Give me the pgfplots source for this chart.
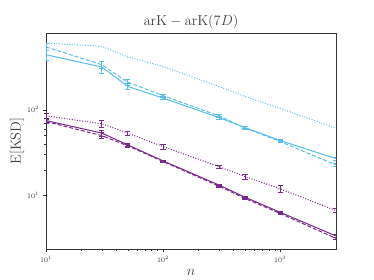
\documentclass[border=0pt]{standalone}
\usepackage{pgfplots}
\pgfplotsset{compat=1.18}
\definecolor{cy}{RGB}{86,190,236}
\definecolor{pu}{RGB}{118,42,138}
\begin{document}
\begin{tikzpicture}
\begin{axis}[
  at={(0,0)}, anchor=south west,
  scale only axis, width=290pt, height=216pt,
  xmode=log, ymode=log,
  xmin=10, xmax=3000, ymin=2.39, ymax=785,
  axis line style={black!80, line width=0.8pt},
  tick align=outside, xtick pos=bottom, ytick pos=left,
  major tick length=3.5pt, minor tick length=2pt,
  tick style={black!80, line width=0.5pt},
  ticklabel style={font=\fontsize{7}{8}\selectfont, text=black!80},
  xtick={10,100,1000}, ytick={10,100},
  title={$\mathrm{arK}-\mathrm{arK}(7D)$},
  title style={font=\fontsize{13.5}{15}\selectfont, text=black!75, yshift=-6pt},
  xlabel={$n$}, ylabel={$\mathrm{E}[\mathrm{KSD}]$},
  label style={font=\fontsize{13.5}{15}\selectfont, text=black!75},
  ylabel style={yshift=-4pt},
  every axis plot/.append style={line width=1.0pt},
  error bars/error bar style={line width=0.8pt},
  error bars/error mark options={rotate=90, mark size=2.6pt, line width=0.8pt},
]
% cyan solid
\addplot[cy, solid, error bars/.cd, y dir=both, y explicit] coordinates {
 (10,438) +- (0,60) (30,315) +- (0,50) (50,187) +- (0,15) (100,137) +- (0,5)
 (300,81.3) +- (0,3) (500,62.1) +- (0,2) (1000,43.9) +- (0,1.5) (3000,27.0) +- (0,1)};
% cyan dashed
\addplot[cy, dashed, dash pattern=on 4pt off 2pt, error bars/.cd, y dir=both, y explicit, error bar style={solid}] coordinates {
 (10,540) +- (0,50) (30,335) +- (0,30) (50,210) +- (0,15) (100,146) +- (0,5)
 (300,85) +- (0,3) (500,61.6) +- (0,2) (1000,42.7) +- (0,1.5) (3000,22.8) +- (0,1)};
% cyan dotted
\addplot[cy, dash pattern=on 1pt off 1.6pt] coordinates {
 (10,600) (30,548) (50,412) (100,320) (300,187) (500,143) (1000,104) (3000,61)};
% purple dotted
\addplot[pu, dash pattern=on 1pt off 1.6pt, error bars/.cd, y dir=both, y explicit, error bar style={solid}] coordinates {
 (10,85) +- (0,5) (30,68.7) +- (0,6) (50,53.5) +- (0,2.5) (100,37.3) +- (0,2.5)
 (300,21.8) +- (0,1) (500,16.7) +- (0,1.2) (1000,12.0) +- (0,1.2) (3000,6.7) +- (0,0.4)};
% purple solid
\addplot[pu, solid, error bars/.cd, y dir=both, y explicit] coordinates {
 (10,75) +- (0,4) (30,53.5) +- (0,4) (50,39) +- (0,1.5) (100,25.4) +- (0,0.6)
 (300,13.3) +- (0,0.4) (500,9.6) +- (0,0.3) (1000,6.4) +- (0,0.2) (3000,3.39) +- (0,0.1)};
% purple dashed
\addplot[pu, dash pattern=on 4pt off 2pt, error bars/.cd, y dir=both, y explicit, error bar style={solid}] coordinates {
 (10,73) +- (0,4) (30,50) +- (0,4) (50,38) +- (0,1.5) (100,25) +- (0,0.6)
 (300,12.9) +- (0,0.4) (500,9.3) +- (0,0.3) (1000,6.2) +- (0,0.2) (3000,3.18) +- (0,0.1)};
\end{axis}
\path[use as bounding box] (-46pt,-31pt) rectangle (328pt,249pt);
\end{tikzpicture}
\end{document}
